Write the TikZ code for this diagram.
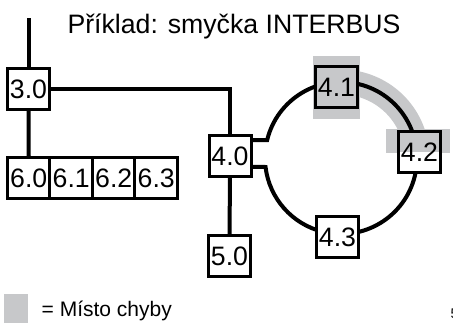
\documentclass[tikz,border=0pt]{standalone}
\usepackage{fontspec}
\setmainfont{Liberation Sans}
\usetikzlibrary{backgrounds,calc}
\definecolor{hl}{RGB}{199,200,202}
\begin{document}
\begin{tikzpicture}[x=0.75pt,y=-0.75pt,
  unit/.style={draw=black, line width=2.25pt, fill=white, inner sep=0pt,
    minimum width=31.5pt, minimum height=30.75pt,
    text height=14.3pt, text depth=0pt, font=\fontsize{20}{22}\selectfont},
  slot/.style={unit, minimum width=31.9pt},
  faulty/.style={unit, fill=hl},
  halffaulty/.style={unit, path picture={
    \fill[hl] (path picture bounding box.north west) rectangle (path picture bounding box.east);}},
  link/.style={draw=black, line width=3pt},
  band/.style={draw=hl, line width=18.75pt},
  caption/.style={font=\fontsize{20}{24}\selectfont},
  keytext/.style={font=\fontsize{15.75}{18}\selectfont},
]
\useasboundingbox (0,0) rectangle (453,325);

% title
\node[caption, anchor=base] (title) at (234,33) {Příklad: smyčka INTERBUS};

% bus units
\node[unit] (n30) at (28.5,89) {3.0};
\node[slot] (n60) at (28.75,178) {6.0};
\node[slot] (n61) at (71.25,178) {6.1};
\node[slot] (n62) at (113.75,178) {6.2};
\node[slot] (n63) at (156.25,178) {6.3};
\node[unit] (n40) at (230,155.5) {4.0};
\node[unit] (n50) at (229.5,256) {5.0};
\node[faulty] (n41) at (336.5,86.5) {4.1};
\node[halffaulty] (n42) at (419.5,152) {4.2};
\node[unit] (n43) at (337.5,236.5) {4.3};

% ring geometry
\coordinate (ringc) at (341,158);
\coordinate (ringin) at ($(ringc)+(193.7:76)$);
\coordinate (feed) at (28.5,18);

\begin{scope}[on background layer]
  % fault marks
  \fill[hl] ([shift={(-0.75pt,6.75pt)}]n41.north west) rectangle ([shift={(0.75pt,-7.5pt)}]n41.south east);
  \fill[hl] ([shift={(-8.25pt,0.75pt)}]n42.north west) rectangle ([shift={(6pt,-17.25pt)}]n42.north east);
  \draw[band] ($(ringc)+(265:76)$) arc[start angle=265, end angle=345, radius=76];
  % bus lines
  \draw[link] (feed) -- (n30.north);
  \draw[link] (n30.south) -- (n60.north);
  \draw[link] (n30.east) -| (n40.north);
  \draw[link] (n40.south) -- (n50.north);
  \draw[link] ([yshift=11.6pt]n40.east) -- (ringin)
    arc[start angle=193.7, end angle=533.2, radius=76]
    -- ([yshift=-8.6pt]n40.east);
\end{scope}

% legend
\node[fill=hl, inner sep=0pt, minimum width=18pt, minimum height=21.75pt] (key) at (16,308.5) {};
\node[keytext, anchor=base west] (keylabel) at (37,316.5) {= Místo chyby};
\node[font=\fontsize{10.5}{12}\selectfont, anchor=base west] (page) at (446,318) {5};
\end{tikzpicture}
\end{document}
